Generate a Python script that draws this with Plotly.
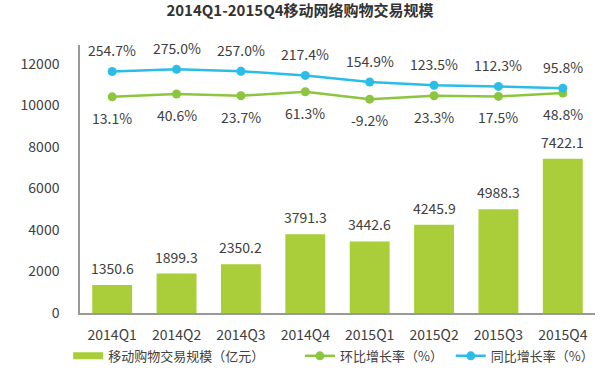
import plotly.graph_objects as go

categories = ["2014Q1", "2014Q2", "2014Q3", "2014Q4", "2015Q1", "2015Q2", "2015Q3", "2015Q4"]
volume = [1350.6, 1899.3, 2350.2, 3791.3, 3442.6, 4245.9, 4988.3, 7422.1]
qoq = [13.1, 40.6, 23.7, 61.3, -9.2, 23.3, 17.5, 48.8]
yoy = [254.7, 275.0, 257.0, 217.4, 154.9, 123.5, 112.3, 95.8]
y_ticks = [0, 2000, 4000, 6000, 8000, 10000, 12000]

FONT = "Noto Sans CJK SC, Open Sans, sans-serif"
TXT = "#404040"
BAR_C = "#A9CE3A"
GREEN = "#8CC63E"
CYAN = "#2BBDE8"
BAR_NAME = "移动购物交易规模（亿元）"

fig = go.Figure()
fig.add_trace(go.Bar(x=categories, y=volume, name=BAR_NAME,
                     marker=dict(color=BAR_C, line=dict(width=0)), width=0.62,
                     showlegend=False))
# wide swatch for the bar series legend entry (legend-only, no data drawn)
fig.add_trace(go.Scatter(x=[None], y=[None], name=BAR_NAME, mode="lines",
                         line=dict(color=BAR_C, width=7), legend="legend",
                         showlegend=True, hoverinfo="skip"))
fig.add_trace(go.Scatter(x=categories, y=qoq, name="环比增长率（%）", yaxis="y2",
                         mode="lines+markers", line=dict(color=GREEN, width=2.5),
                         marker=dict(size=9, color=GREEN), legend="legend2", showlegend=True))
fig.add_trace(go.Scatter(x=categories, y=yoy, name="同比增长率（%）", yaxis="y2",
                         mode="lines+markers", line=dict(color=CYAN, width=2.5),
                         marker=dict(size=9, color=CYAN), legend="legend3", showlegend=True))

ann = []
for c, v in zip(categories, volume):
    ann.append(dict(x=c, y=v, xref="x", yref="y", text=f"{v:.1f}", showarrow=False,
                    yshift=17, font=dict(size=14, color=TXT, family=FONT)))
for c, v in zip(categories, yoy):
    ann.append(dict(x=c, y=v, xref="x", yref="y2", text=f"{v:.1f}%", showarrow=False,
                    yshift=21, font=dict(size=14, color=TXT, family=FONT)))
for c, v in zip(categories, qoq):
    ann.append(dict(x=c, y=v, xref="x", yref="y2", text=f"{v:.1f}%", showarrow=False,
                    yshift=-21, font=dict(size=14, color=TXT, family=FONT)))

leg_common = dict(orientation="h", yanchor="middle", y=-0.16, xanchor="left",
                  font=dict(size=13, color=TXT, family=FONT), bgcolor="rgba(0,0,0,0)")

fig.update_layout(
    width=600, height=374,
    showlegend=True,
    margin=dict(l=80, r=5, t=45, b=61, autoexpand=False),
    paper_bgcolor="white", plot_bgcolor="white",
    title=dict(text="<b>2014Q1-2015Q4移动网络购物交易规模</b>", x=0.5, xanchor="center",
               y=1 - 11 / 374, yanchor="middle", font=dict(size=15, color="#333333", family=FONT)),
    font=dict(family=FONT, color=TXT),
    xaxis=dict(showline=True, linecolor="#999999", linewidth=1.5, showgrid=False,
               ticks="", tickfont=dict(size=14, color=TXT), automargin=False,
               ticklabelstandoff=8),
    yaxis=dict(range=[0, 12900], tickvals=y_ticks, ticktext=[str(t) for t in y_ticks],
               showgrid=False, zeroline=False, automargin=False,
               showline=True, linecolor="#999999", linewidth=1.5, ticks="",
               tickfont=dict(size=14, color=TXT), ticklabelstandoff=16),
    yaxis2=dict(range=[-2046, 507], overlaying="y", visible=False),
    legend=dict(x=-0.023, **leg_common),
    legend2=dict(x=0.427, **leg_common),
    legend3=dict(x=0.72, **leg_common),
    annotations=ann,
)

fig.write_html("out.html", config={"displayModeBar": False},
               post_script="document.body.style.margin='0';")
